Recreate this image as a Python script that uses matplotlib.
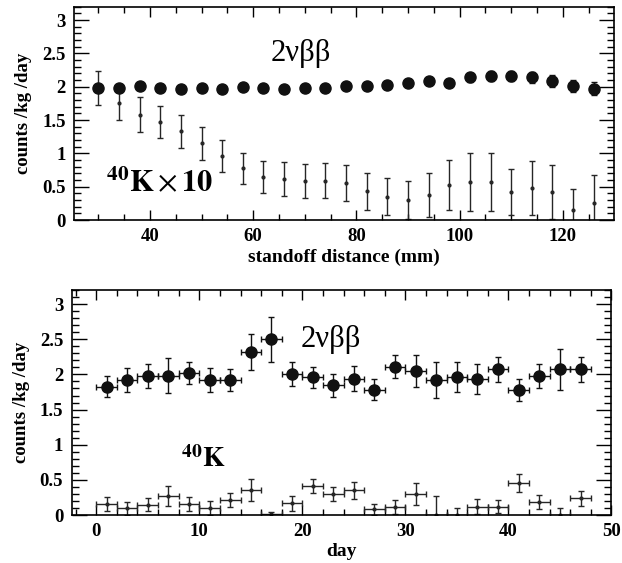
import numpy as np
import matplotlib
matplotlib.use('Agg')
import matplotlib.pyplot as plt
from matplotlib.ticker import MultipleLocator

plt.rcParams['font.family'] = ['Liberation Serif', 'DejaVu Serif']
plt.rcParams['mathtext.fontset'] = 'stix'

# top panel: rate vs standoff distance
standoff = np.arange(30, 127, 4)
bb_top = [1.98, 1.98, 2.01, 1.98, 1.96, 1.98, 1.96, 1.99,
          1.98, 1.96, 1.98, 1.98, 2.01, 2.01, 2.03, 2.06, 2.08,
          2.06, 2.14, 2.16, 2.16, 2.14, 2.08, 2.01, 1.97]
bb_top_err = [0.04, 0.04, 0.04, 0.04, 0.04, 0.045, 0.045, 0.045,
              0.05, 0.05, 0.05, 0.05, 0.05, 0.055, 0.055, 0.055, 0.06,
              0.06, 0.065, 0.07, 0.075, 0.08, 0.09, 0.095, 0.1]
k10_top = [1.98, 1.76, 1.58, 1.47, 1.33, 1.15, 0.955, 0.776,
           0.64, 0.61, 0.59, 0.59, 0.55, 0.43, 0.35, 0.30, 0.37,
           0.53, 0.57, 0.57, 0.42, 0.48, 0.42, 0.15, 0.26]
k10_top_err = [0.25, 0.26, 0.26, 0.24, 0.245, 0.245, 0.24, 0.23,
               0.24, 0.255, 0.255, 0.26, 0.27, 0.275, 0.275, 0.29, 0.33,
               0.375, 0.43, 0.43, 0.345, 0.40, 0.41, 0.32, 0.42]

# bottom panel: rate vs day
days = np.arange(1, 48, 2)
bb_day = [1.825, 1.92, 1.98, 1.98, 2.02, 1.92, 1.92, 2.32,
          2.50, 2.005, 1.96, 1.845, 1.94, 1.78, 2.11, 2.05, 1.92,
          1.96, 1.935, 2.07, 1.78, 1.98, 2.07, 2.07]
bb_day_err = [0.15, 0.17, 0.17, 0.25, 0.16, 0.17, 0.15, 0.26,
              0.32, 0.17, 0.15, 0.16, 0.18, 0.15, 0.16, 0.23, 0.25,
              0.21, 0.21, 0.18, 0.16, 0.17, 0.29, 0.18]
k_day = [0.152, 0.095, 0.15, 0.275, 0.152, 0.095, 0.21, 0.355,
         0.01, 0.166, 0.417, 0.30, 0.355, 0.085, 0.12, 0.30, 0.0,
         0.0, 0.12, 0.12, 0.46, 0.19, 0.0, 0.237]
k_day_err = [0.1, 0.095, 0.09, 0.145, 0.1, 0.1, 0.1, 0.155,
             0.04, 0.1, 0.1, 0.105, 0.12, 0.08, 0.1, 0.16, 0.27,
             0.1, 0.11, 0.09, 0.125, 0.1, 0.1, 0.1]
day_halfwidth = 1.0

fig = plt.figure(figsize=(6.22, 5.63), dpi=100)
ax1 = fig.add_axes([0.119, 0.609, 0.868, 0.379])
ax2 = fig.add_axes([0.115, 0.085, 0.868, 0.400])


def style_axis(ax):
    for s in ax.spines.values():
        s.set_linewidth(1.2)
    ax.tick_params(which='both', direction='in', top=True, right=True,
                   width=1.0, labelsize=13.5, pad=6)
    ax.tick_params(axis='y', which='major', length=11)
    ax.tick_params(axis='y', which='minor', length=5)
    ax.tick_params(axis='x', which='major', length=7)
    ax.tick_params(axis='x', which='minor', length=4)
    for lab in ax.get_xticklabels() + ax.get_yticklabels():
        lab.set_fontweight('bold')
    ax.yaxis.set_major_locator(MultipleLocator(0.5))
    ax.yaxis.set_minor_locator(MultipleLocator(0.1))
    ax.yaxis.set_major_formatter(plt.FuncFormatter(lambda v, p: f'{v:g}'))
    ax.set_ylim(0, 3.2)
    ax.set_ylabel('counts /kg /day', fontsize=13.5, fontweight='bold', labelpad=7)


# top panel
ax1.errorbar(standoff, k10_top, yerr=k10_top_err, fmt='o', ms=2, color='0.15',
             ecolor='0.15', elinewidth=1.0, capsize=2.5, capthick=1.0)
ax1.errorbar(standoff, bb_top, yerr=bb_top_err, fmt='o', ms=8, color='#111111',
             ecolor='#111111', elinewidth=1.0, capsize=2.5, capthick=1.0)
ax1.set_xlim(25.3, 129.9)
ax1.xaxis.set_major_locator(MultipleLocator(20))
ax1.xaxis.set_minor_locator(MultipleLocator(5))
style_axis(ax1)
ax1.set_xlabel('standoff distance (mm)', fontsize=14, fontweight='bold', labelpad=2)
ax1.text(69.2, 2.5, '2νββ', fontsize=22, ha='center', va='center')
ax1.text(31.5, 0.42, r'$^{\mathbf{40}}\mathbf{K}\times\mathbf{10}$', fontsize=22,
         ha='left', va='baseline')

# bottom panel
ax2.errorbar(days, k_day, xerr=day_halfwidth, yerr=k_day_err, fmt='o', ms=2,
             color='0.15', ecolor='0.15', elinewidth=1.0, capsize=2.5, capthick=1.0)
ax2.errorbar(days, bb_day, xerr=day_halfwidth, yerr=bb_day_err, fmt='o', ms=8,
             color='#111111', ecolor='#111111', elinewidth=1.0, capsize=2.5, capthick=1.0)
ax2.set_xlim(-2.4, 50)
ax2.xaxis.set_major_locator(MultipleLocator(10))
ax2.xaxis.set_minor_locator(MultipleLocator(2))
style_axis(ax2)
ax2.set_xlabel('day', fontsize=14, fontweight='bold', labelpad=2)
ax2.text(22.8, 2.49, '2νββ', fontsize=22, ha='center', va='center')
ax2.text(8.2, 0.68, r'$^{\mathbf{40}}\mathbf{K}$', fontsize=20, ha='left', va='baseline')

fig.savefig('out.png', dpi=100)
